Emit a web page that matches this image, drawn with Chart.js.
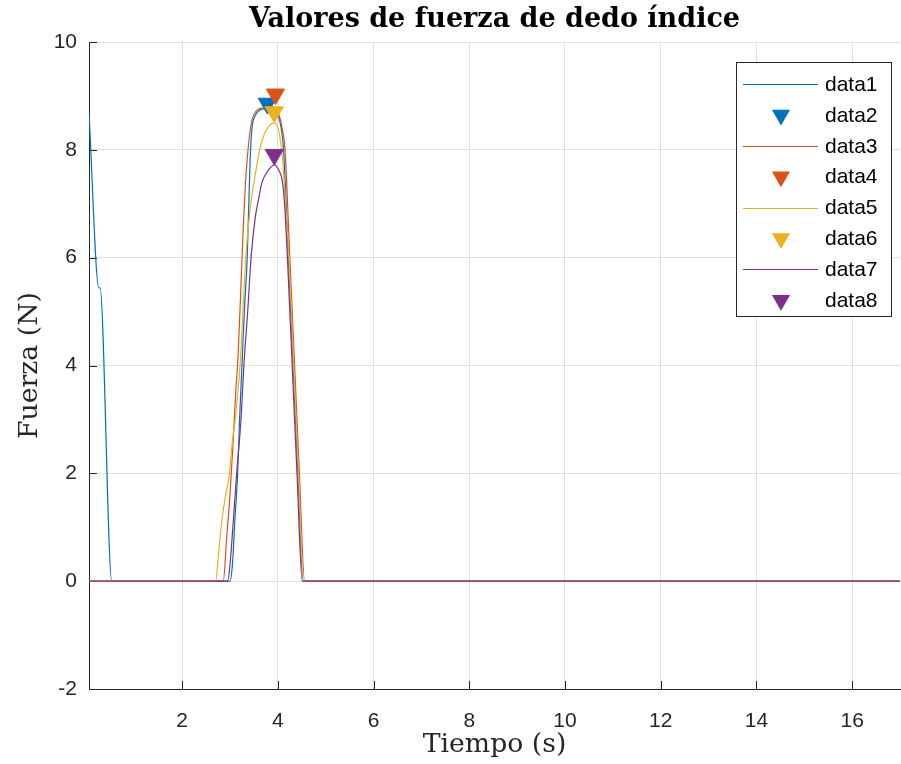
<!DOCTYPE html>
<html><head><meta charset="utf-8">
<script src="https://cdn.jsdelivr.net/npm/chart.js@4.4.1/dist/chart.umd.min.js"></script>
<style>html,body{margin:0;padding:0;background:#fff}canvas{display:block}</style>
</head><body>
<canvas id="c" width="901" height="764" style="width:901px;height:764px"></canvas>
<script>
// ---- data ----
const seriesNames = ['data1','data2','data3','data4','data5','data6','data7','data8'];
const xTicks = [2, 4, 6, 8, 10, 12, 14, 16];
const yTicks = [-2, 0, 2, 4, 6, 8, 10];

const t1 = [0.054, 0.26, 0.285, 0.53, 3.00, 3.05, 3.10, 3.16, 3.20, 3.25, 3.30, 3.36, 3.42, 3.46, 3.52, 3.60, 3.70, 3.85, 3.95, 4.02, 4.07, 4.12, 4.22, 4.32, 4.42, 4.53, 17.0];
const v1 = [8.68, 5.44, 5.44, 0, 0, 0.3, 1.1, 2.0, 3.0, 4.0, 5.0, 6.0, 7.8, 8.4, 8.62, 8.72, 8.76, 8.76, 8.72, 8.6, 8.4, 8.0, 6.0, 4.0, 2.0, 0, 0];

const t2 = [3.78];
const v2 = [8.86];

const t3 = [0.054, 2.86, 2.93, 3.00, 3.06, 3.12, 3.17, 3.23, 3.28, 3.34, 3.40, 3.46, 3.55, 3.70, 3.85, 3.97, 4.04, 4.09, 4.15, 4.25, 4.35, 4.45, 4.56, 17.0];
const v3 = [0, 0, 0.8, 1.6, 2.5, 3.5, 4.2, 5.5, 6.6, 7.6, 8.2, 8.55, 8.72, 8.78, 8.8, 8.75, 8.6, 8.4, 8.0, 6.0, 4.0, 2.0, 0, 0];

const t4 = [3.95];
const v4 = [9.03];

const t5 = [0.054, 2.70, 2.76, 2.83, 2.91, 2.99, 3.05, 3.11, 3.21, 3.27, 3.33, 3.42, 3.52, 3.62, 3.72, 3.82, 3.93, 4.03, 4.10, 4.16, 4.23, 4.33, 4.43, 4.54, 17.0];
const v5 = [0, 0, 0.5, 1.13, 1.6, 2.0, 2.6, 3.0, 4.0, 5.0, 6.0, 6.9, 7.5, 8.0, 8.3, 8.45, 8.5, 8.3, 7.8, 7.0, 6.0, 4.0, 2.0, 0, 0];

const t6 = [3.925];
const v6 = [8.70];

const t7 = [0.054, 2.95, 3.00, 3.07, 3.14, 3.23, 3.29, 3.37, 3.44, 3.53, 3.60, 3.67, 3.80, 3.93, 4.02, 4.09, 4.14, 4.20, 4.30, 4.40, 4.51, 17.0];
const v7 = [0, 0, 0.3, 1.13, 2.0, 3.0, 4.0, 5.0, 6.0, 6.76, 7.1, 7.4, 7.62, 7.72, 7.62, 7.44, 7.0, 6.0, 4.0, 2.0, 0, 0];

const t8 = [3.925];
const v8 = [7.91];

// ---- styling ----
const COLORS = ['#0072BD', '#D95319', '#EDB120', '#7E2F8E'];
const TXT = '#262626';
const pts = (t, v) => t.map((x, i) => ({x: x, y: v[i]}));

const seriesT = [t1, t2, t3, t4, t5, t6, t7, t8];
const seriesV = [v1, v2, v3, v4, v5, v6, v7, v8];

const datasets = seriesNames.map((name, i) => {
  const col = COLORS[Math.floor(i / 2)];
  const isMarker = i % 2 === 1;
  return {
    label: name,
    data: pts(seriesT[i], seriesV[i]),
    borderColor: col,
    backgroundColor: col,
    borderWidth: isMarker ? 1 : 1.2,
    showLine: !isMarker,
    pointRadius: isMarker ? 10.5 : 0,
    pointHoverRadius: isMarker ? 10.5 : 0,
    pointStyle: isMarker ? 'triangle' : 'circle',
    rotation: isMarker ? 180 : 0,
    cubicInterpolationMode: 'monotone',
    order: 8 - i,
    _isMarker: isMarker
  };
});

// inward tick marks
const inwardTicks = {
  id: 'inwardTicks',
  beforeDatasetsDraw(chart) {
    const {ctx, chartArea, scales} = chart;
    ctx.save();
    ctx.strokeStyle = TXT;
    ctx.lineWidth = 1;
    ctx.beginPath();
    xTicks.forEach(v => {
      const px = Math.round(scales.x.getPixelForValue(v)) + 0.5;
      ctx.moveTo(px, chartArea.bottom);
      ctx.lineTo(px, chartArea.bottom - 8);
    });
    yTicks.forEach(v => {
      const py = Math.round(scales.y.getPixelForValue(v)) + 0.5;
      ctx.moveTo(chartArea.left, py);
      ctx.lineTo(chartArea.left + 8, py);
    });
    ctx.stroke();
    ctx.restore();
  }
};

// MATLAB-like legend inside the axes
const boxLegend = {
  id: 'boxLegend',
  afterDatasetsDraw(chart) {
    const {ctx} = chart;
    const L = 736, T = 62.5, W = 155, H = 254;
    ctx.save();
    ctx.fillStyle = '#fff';
    ctx.fillRect(L, T, W, H);
    ctx.strokeStyle = TXT;
    ctx.lineWidth = 1;
    ctx.strokeRect(L + 0.5, T, W, H);
    ctx.font = '21px "Liberation Sans", Arial, sans-serif';
    ctx.textBaseline = 'middle';
    ctx.textAlign = 'left';
    chart.data.datasets.forEach((ds, i) => {
      const y = 84 + i * 30.9;
      if (ds._isMarker) {
        const r = 10.5;
        ctx.fillStyle = ds.backgroundColor;
        ctx.beginPath();
        const cx = 781;
        ctx.moveTo(cx, y + r);
        ctx.lineTo(cx - r * Math.sqrt(3) / 2, y - r / 2);
        ctx.lineTo(cx + r * Math.sqrt(3) / 2, y - r / 2);
        ctx.closePath();
        ctx.fill();
      } else {
        ctx.strokeStyle = ds.borderColor;
        ctx.lineWidth = 1.2;
        ctx.beginPath();
        ctx.moveTo(743, Math.round(y) + 0.5);
        ctx.lineTo(818, Math.round(y) + 0.5);
        ctx.stroke();
      }
      ctx.fillStyle = '#000';
      ctx.fillText(ds.label, 825, y + 1);
    });
    ctx.restore();
  }
};

new Chart(document.getElementById('c'), {
  type: 'line',
  data: {datasets},
  options: {
    responsive: false,
    animation: false,
    devicePixelRatio: 1,
    layout: {autoPadding: false, padding: {left: 0, right: 1, top: 0, bottom: 0}},
    plugins: {
      legend: {display: false},
      tooltip: {enabled: false},
      title: {
        display: true,
        fullSize: false,
        text: 'Valores de fuerza de dedo índice',
        color: '#000',
        font: {family: '"DejaVu Serif", serif', size: 27, weight: 'bold', lineHeight: 1.2},
        padding: {top: 4, bottom: 5.6}
      }
    },
    scales: {
      x: {
        type: 'linear',
        min: 0.054,
        max: 17,
        afterBuildTicks: s => { s.ticks = xTicks.map(v => ({value: v})); },
        afterFit: s => { s.height = 75; s.paddingLeft = 0; s.paddingRight = 0; },
        grid: {color: 'rgb(223,223,223)', lineWidth: 1, drawTicks: false},
        border: {display: true, color: TXT, width: 1},
        ticks: {color: TXT, font: {family: '"Liberation Sans", Arial, sans-serif', size: 21}, padding: 20, maxRotation: 0, autoSkip: false},
        title: {display: true, text: 'Tiempo (s)', color: TXT, font: {family: '"DejaVu Serif", serif', size: 26.7, lineHeight: 1.2}, padding: {top: 0, bottom: 3}}
      },
      y: {
        type: 'linear',
        min: -2,
        max: 10,
        afterBuildTicks: s => { s.ticks = yTicks.map(v => ({value: v})); },
        afterFit: s => { s.width = 89; s.paddingTop = 0; s.paddingBottom = 0; },
        grid: {color: 'rgb(223,223,223)', lineWidth: 1, drawTicks: false},
        border: {display: true, color: TXT, width: 1},
        ticks: {color: TXT, font: {family: '"Liberation Sans", Arial, sans-serif', size: 21}, padding: 12},
        title: {display: true, text: 'Fuerza (N)', color: TXT, font: {family: '"DejaVu Serif", serif', size: 26.7, lineHeight: 1.2}, padding: {top: 14, bottom: 0}}
      }
    }
  },
  plugins: [inwardTicks, boxLegend]
});
</script>
</body></html>
